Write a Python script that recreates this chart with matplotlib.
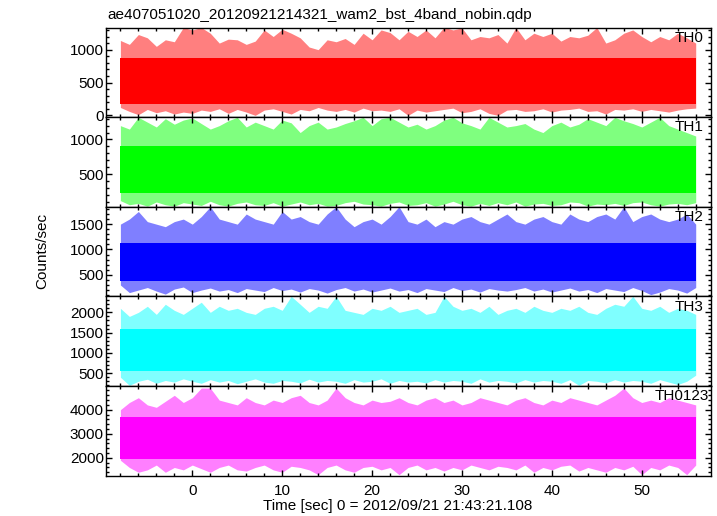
import numpy as np
import matplotlib
matplotlib.use("Agg")
import matplotlib.pyplot as plt
from matplotlib.ticker import MultipleLocator

plt.rcParams["font.family"] = ["Liberation Sans", "DejaVu Sans"]

# tid i sekunder, en værdi pr. sekund (-8 .. 56)
tider = np.arange(-8, 57)

# TH0 - max / min pr. sekund
th0_hoej = [1140, 1080, 1230, 1180, 1050, 1150, 1120, 1337, 1300, 1337, 1250, 1100, 1160,
            1150, 1080, 1130, 1300, 1200, 1310, 1250, 1180, 1040, 1000, 1150, 1120, 1170,
            1080, 1250, 1150, 1300, 1260, 1150, 1280, 1200, 1300, 1180, 1340, 1300, 1330,
            1150, 1200, 1180, 1230, 1100, 1337, 1150, 1250, 1200, 1250, 1130, 1200, 1180,
            1220, 1337, 1100, 1150, 1250, 1300, 1200, 1120, 1200, 1150, 1250, 1180, 1100]
th0_lav = [120, 60, 10, 90, 40, 70, 20, 50, 30, 80, 60, 100, 30,
           90, 50, 0, 80, 100, 60, 20, 90, 70, 120, 80, 60, 90,
           50, 110, 70, 80, 60, 100, 0, 80, 50, 70, 90, 110, 40,
           60, 100, 30, 0, 80, 90, 60, 70, 100, 50, 80, 90, 110,
           60, 70, 20, 90, 80, 100, 60, 90, 70, 50, 80, 100, 110]

# TH1
th1_hoej = [1200, 1150, 1320, 1250, 1180, 1300, 1220, 1280, 1310, 1230, 1150, 1200, 1270,
            1320, 1180, 1250, 1200, 1150, 1280, 1240, 1100, 1200, 1250, 1150, 1180, 1230,
            1270, 1320, 1200, 1300, 1320, 1250, 1180, 1220, 1150, 1200, 1280, 1320, 1240,
            1200, 1150, 1320, 1250, 1180, 1200, 1230, 1150, 1100, 1200, 1250, 1180, 1220,
            1300, 1250, 1200, 1320, 1270, 1230, 1180, 1250, 1320, 1200, 1150, 1100, 1050]
th1_lav = [120, 60, 80, 40, 100, 60, 40, 90, 70, 50, 110, 60, 40,
           80, 100, 60, 50, 90, 40, 70, 100, 60, 80, 40, 50, 90,
           110, 70, 60, 40, 80, 100, 50, 60, 90, 40, 70, 110, 60,
           40, 80, 50, 90, 60, 100, 40, 70, 80, 50, 60, 100, 90,
           40, 70, 60, 80, 50, 90, 100, 60, 40, 70, 80, 60, 90]

# TH2
th2_hoej = [1500, 1600, 1750, 1550, 1500, 1450, 1550, 1600, 1500, 1650, 1844, 1600, 1550,
            1500, 1700, 1600, 1550, 1500, 1750, 1600, 1650, 1550, 1500, 1700, 1844, 1600,
            1450, 1550, 1600, 1500, 1650, 1844, 1550, 1500, 1600, 1450, 1550, 1500, 1600,
            1650, 1550, 1500, 1600, 1700, 1550, 1500, 1600, 1650, 1550, 1500, 1700, 1600,
            1550, 1650, 1700, 1600, 1844, 1550, 1650, 1700, 1600, 1550, 1600, 1700, 1500]
th2_lav = [300, 150, 200, 250, 180, 120, 220, 260, 150, 200, 240, 180, 210,
           150, 230, 200, 170, 250, 190, 220, 160, 230, 200, 140, 210, 250,
           180, 220, 160, 200, 240, 180, 210, 150, 230, 200, 170, 250, 190,
           220, 160, 230, 200, 180, 210, 250, 180, 220, 160, 200, 240, 180,
           210, 150, 230, 200, 170, 250, 190, 110, 160, 230, 200, 140, 250]

# TH3
th3_hoej = [2100, 1900, 2000, 2150, 1950, 2200, 2050, 1950, 2100, 2250, 2000, 2150, 2050,
            2100, 2000, 1950, 2100, 2150, 2050, 2396, 2200, 2000, 2150, 2100, 2396, 2050,
            2000, 1950, 2100, 2050, 2150, 2000, 2050, 2100, 1950, 2000, 2396, 2150, 2050,
            2100, 2000, 2150, 1950, 2050, 2100, 2000, 2150, 2050, 2000, 2100, 2050, 2150,
            2000, 1950, 2100, 2200, 2150, 2396, 2100, 2050, 2150, 2000, 2100, 2050, 1950]
th3_lav = [400, 200, 300, 350, 250, 320, 280, 360, 300, 250, 340, 280, 320,
           240, 300, 360, 280, 250, 320, 300, 260, 350, 280, 320, 300, 250,
           340, 280, 300, 360, 250, 320, 280, 300, 260, 340, 280, 320, 300,
           250, 360, 280, 320, 300, 260, 340, 280, 320, 300, 250, 340, 200,
           320, 300, 260, 340, 280, 320, 300, 250, 340, 280, 220, 300, 450]

# TH0123
th0123_hoej = [4000, 4300, 4500, 4200, 4100, 4350, 4600, 4300, 4500, 4900, 4900, 4400, 4300,
               4200, 4500, 4300, 4200, 4400, 4300, 4500, 4600, 4300, 4200, 4400, 4900, 4500,
               4300, 4200, 4400, 4300, 4350, 4500, 4300, 4200, 4400, 4500, 4300, 4400, 4200,
               4300, 4500, 4400, 4300, 4200, 4400, 4500, 4300, 4200, 4400, 4300, 4500, 4400,
               4300, 4200, 4400, 4600, 4900, 4500, 4300, 4400, 4300, 4500, 4400, 4300, 4200]
th0123_lav = [1900, 1600, 1400, 1500, 1700, 1400, 1600, 1500, 1700, 1550, 1400, 1600, 1700,
              1500, 1450, 1600, 1700, 1500, 1400, 1650, 1600, 1500, 1300, 1600, 1700, 1500,
              1400, 1600, 1650, 1500, 1600, 1300, 1600, 1700, 1500, 1600, 1450, 1600, 1500,
              1700, 1600, 1500, 1650, 1600, 1500, 1700, 1400, 1600, 1500, 1650, 1700, 1450,
              1600, 1500, 1400, 1600, 1500, 1650, 1300, 1600, 1500, 1700, 1600, 1300, 1700]

# tæt kerne af hvert bånd (nedre, øvre)
kerne_lav = [180, 230, 370, 560, 1950]
kerne_hoej = [880, 900, 1130, 1580, 3700]

navne = ["TH0", "TH1", "TH2", "TH3", "TH0123"]
farver = ["#ff0000", "#00ff00", "#0000ff", "#00ffff", "#ff00ff"]
y_graenser = [(-25, 1337), (32, 1324), (77, 1844), (186, 2396), (1258, 4990)]
y_major = [500, 500, 500, 500, 1000]
y_minor = [100, 100, 100, 100, 200]
hoejder = [th0_hoej, th1_hoej, th2_hoej, th3_hoej, th0123_hoej]
lave = [th0_lav, th1_lav, th2_lav, th3_lav, th0123_lav]
navn_x = [0.9405, 0.9405, 0.9405, 0.9405, 0.907]

W, H = 717, 516
fig = plt.figure(figsize=(W / 100, H / 100), dpi=100)
kanter = [27.5, 117.0, 206.7, 296.3, 385.9, 475.7]
venstre, hoejre = 106, 711

for i in range(5):
    top, bund = kanter[i], kanter[i + 1]
    ax = fig.add_axes([venstre / W, 1 - bund / H, (hoejre - venstre) / W, (bund - top) / H])
    # lys yderzone (spidser) og tæt kerne
    ax.fill_between(tider, lave[i], hoejder[i], color=farver[i], alpha=0.5, lw=0)
    ax.fill_between(tider, kerne_lav[i], kerne_hoej[i], color=farver[i], lw=0)
    ax.set_xlim(-9.6, 57.7)
    ax.set_ylim(*y_graenser[i])
    ax.xaxis.set_major_locator(MultipleLocator(10))
    ax.xaxis.set_minor_locator(MultipleLocator(2))
    ax.yaxis.set_major_locator(MultipleLocator(y_major[i]))
    ax.yaxis.set_minor_locator(MultipleLocator(y_minor[i]))
    ax.tick_params(which="both", direction="in", top=True, right=True, width=1.0, labelsize=11)
    ax.tick_params(which="major", length=4.5)
    ax.tick_params(which="minor", length=2.2)
    ax.tick_params(axis="y", pad=1.5)
    ax.tick_params(axis="x", pad=6)
    for s in ax.spines.values():
        s.set_linewidth(1.0)
    if i < 4:
        ax.tick_params(labelbottom=False)
    ax.text(navn_x[i], 0.885, navne[i], transform=ax.transAxes, ha="left", va="center", fontsize=11)

fig.text(107 / W, 1 - 15 / H, "ae407051020_20120921214321_wam2_bst_4band_nobin.qdp",
         ha="left", va="center", fontsize=11)
fig.text(42 / W, 1 - 251 / H, "Counts/sec", rotation=90, ha="center", va="center", fontsize=11)
fig.text(397.5 / W, 1 - 506 / H, "Time [sec] 0 = 2012/09/21 21:43:21.108",
         ha="center", va="center", fontsize=11)

fig.savefig("out.png", dpi=100)
